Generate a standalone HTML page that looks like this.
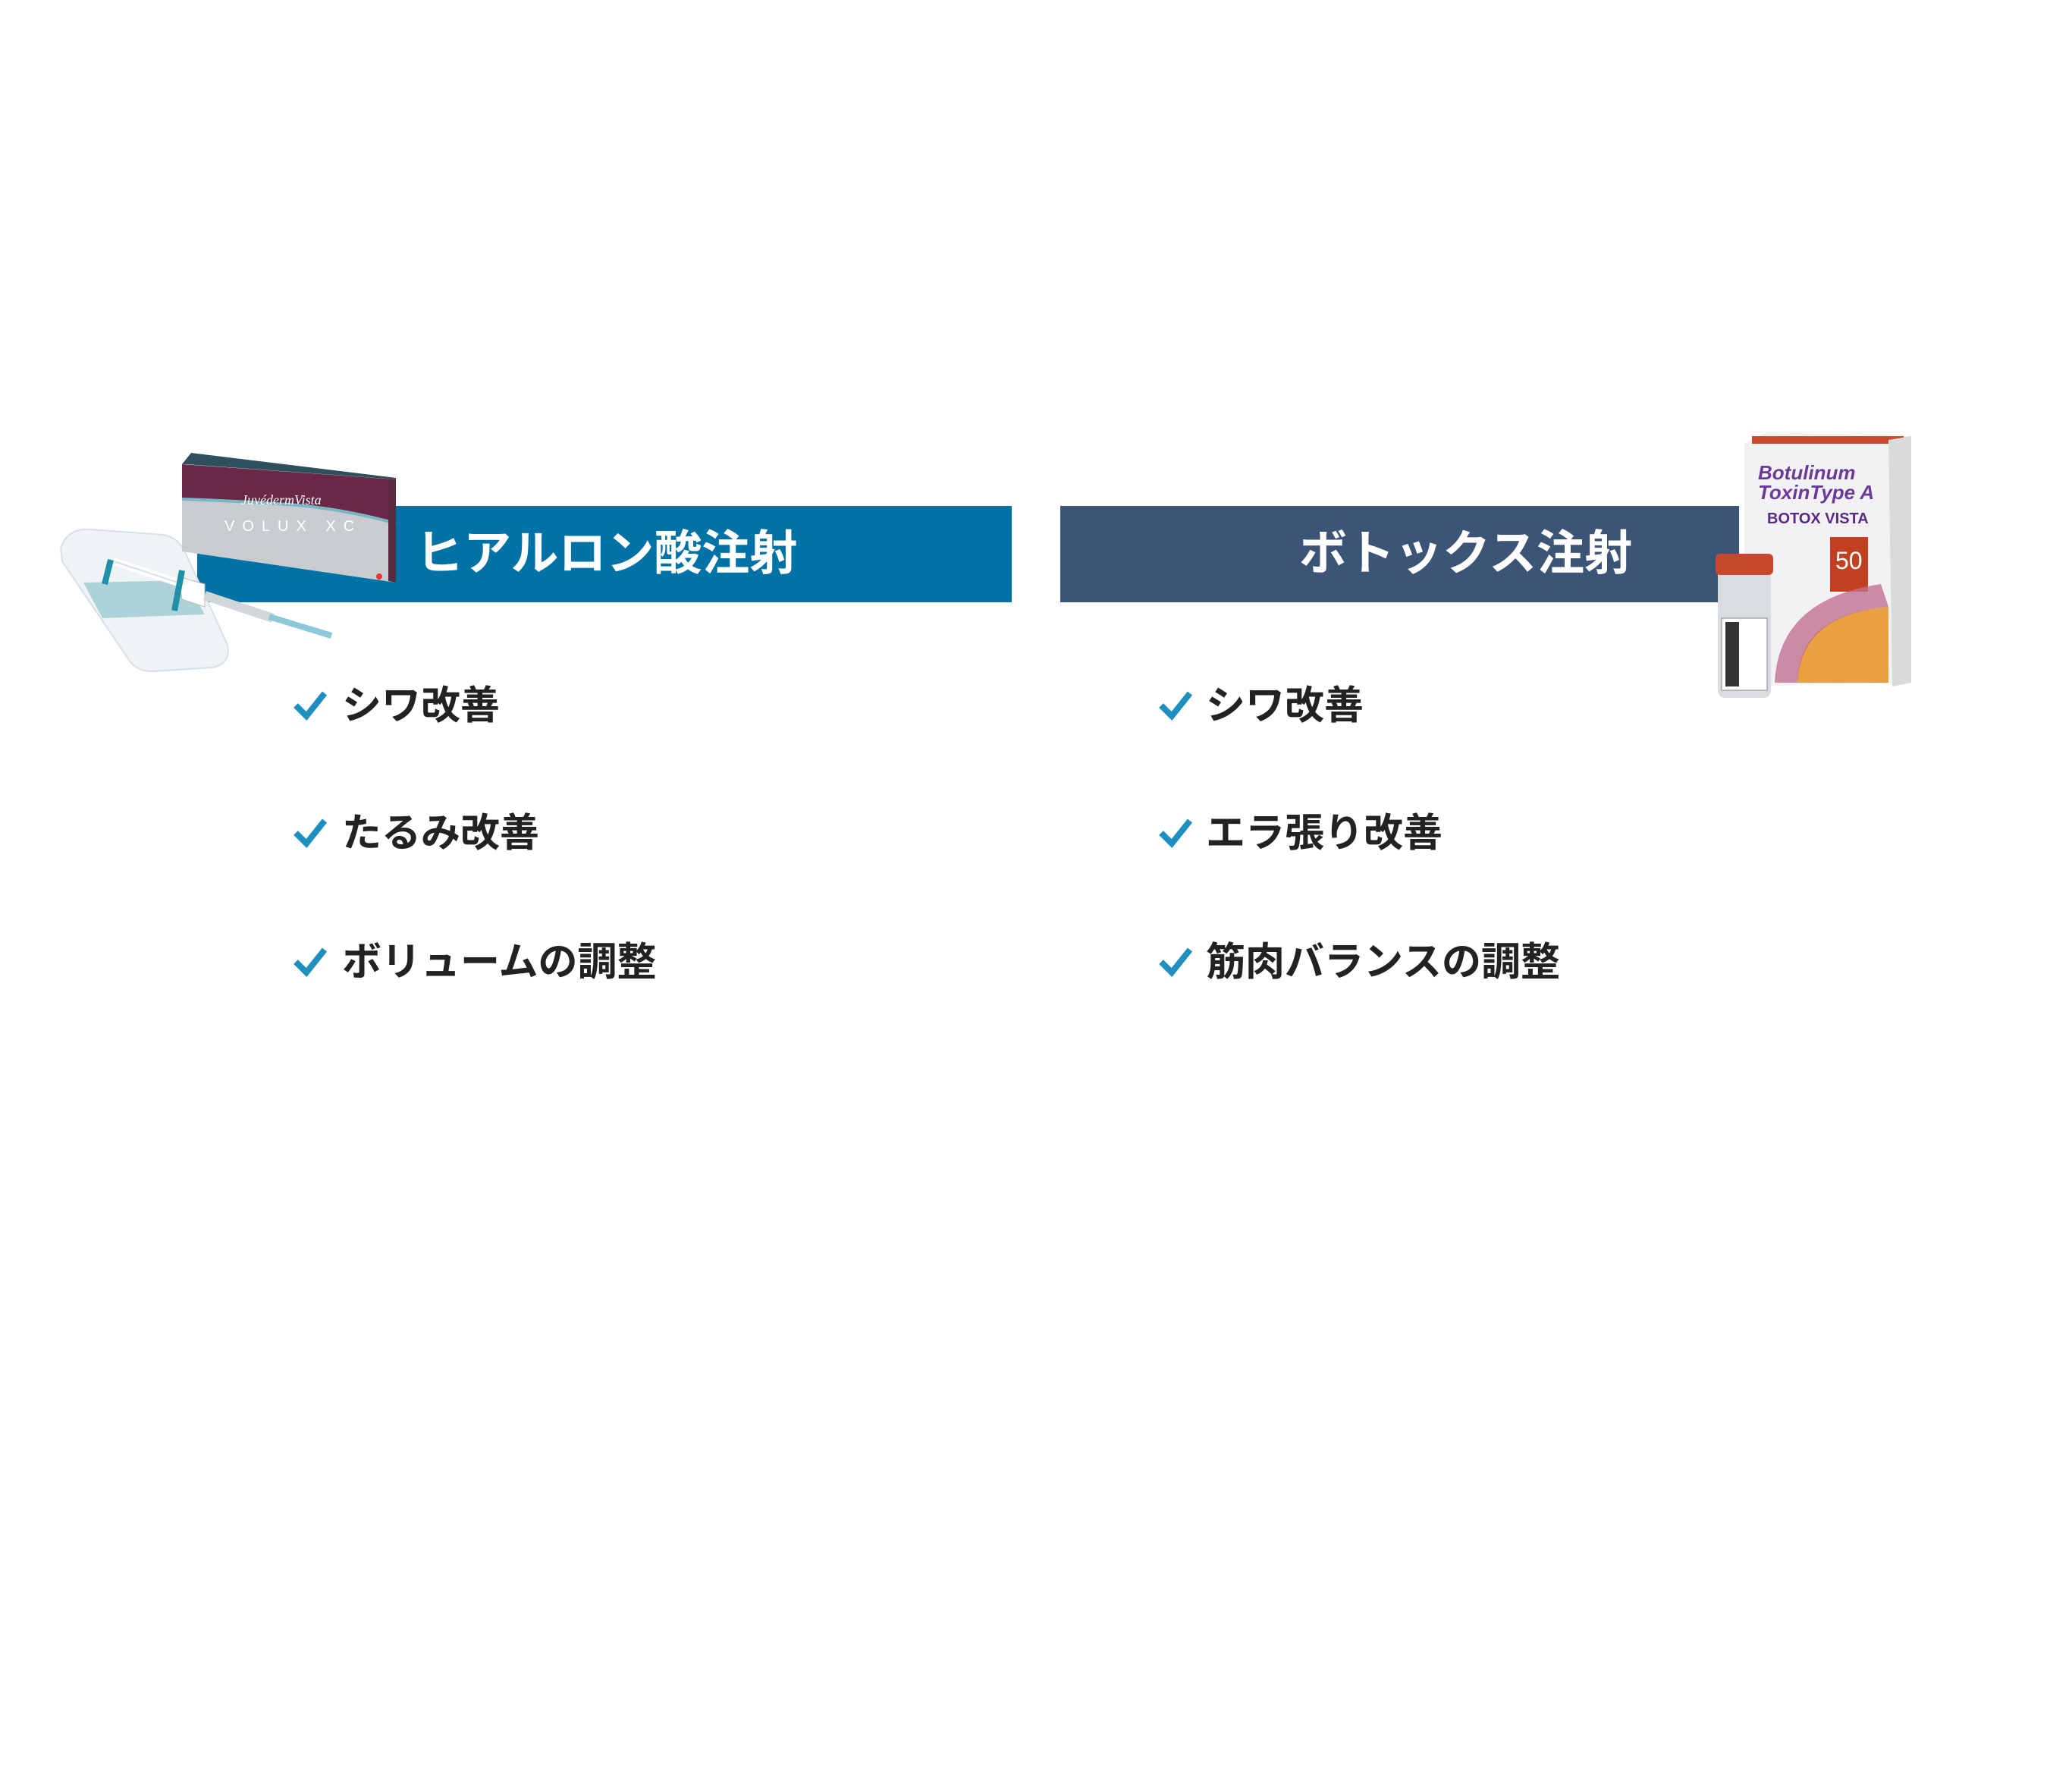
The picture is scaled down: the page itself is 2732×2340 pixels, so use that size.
<!DOCTYPE html>
<html><head><meta charset="utf-8"><style>
html,body{margin:0;padding:0;background:#fff}
body{width:2732px;height:2340px;position:relative;overflow:hidden;font-family:"Liberation Sans","Noto Sans CJK JP",sans-serif}
.ban{position:absolute;top:667px;height:127px}
.t{position:absolute;color:#fff;font-weight:700;font-size:63px;line-height:127px;top:0;white-space:nowrap}
.it{position:absolute;font-weight:700;font-size:52px;color:#222;white-space:nowrap;line-height:60px}
.ck{position:absolute;width:46px;height:40px}
svg{position:absolute;left:0;top:0}
</style></head><body>
<div class="ban" style="left:260px;width:1074px;background:#0072a6"><div class="t" style="left:288px">ヒアルロン酸注射</div></div>
<div class="ban" style="left:1398px;width:895px;background:#3c5577"><div class="t" style="left:315px">ボトックス注射</div></div>

<svg width="2732" height="2340" viewBox="0 0 2732 2340">
<path d="M80 722 Q90 695 120 698 L215 705 Q235 708 245 730 L300 850 Q305 875 280 880 L200 885 Q180 885 170 870 L82 740 Z" fill="#eef3f6" stroke="#d6e0e6" stroke-width="2"/>
<path d="M110 768 L245 765 L270 810 L135 815 Z" fill="#9cc9d1" opacity=".8"/>
<line x1="150" y1="740" x2="265" y2="778" stroke="#fff" stroke-width="10"/>
<line x1="150" y1="740" x2="265" y2="778" stroke="#dde" stroke-width="2"/>
<path d="M235 760 L270 770 L270 800 L240 790 Z" fill="#fff" stroke="#bbb"/>
<line x1="270" y1="785" x2="360" y2="815" stroke="#d0d6da" stroke-width="12"/>
<line x1="355" y1="813" x2="437" y2="838" stroke="#8cc9d8" stroke-width="8"/>
<line x1="146" y1="738" x2="138" y2="770" stroke="#1e90a8" stroke-width="8"/>
<line x1="240" y1="752" x2="230" y2="805" stroke="#1e90a8" stroke-width="8"/>
<polygon points="240,612 252,597 522,630 522,632 246,612" fill="#2e4f5c"/>
<polygon points="240,612 522,632 522,768 240,727" fill="#c9ccce"/>
<path d="M240 612 L522 632 L522 690 Q450 670 380 665 Q300 660 240 658 Z" fill="#6b2846"/>
<path d="M240 658 Q300 660 380 665 Q450 670 522 690" stroke="#7ab7c6" stroke-width="4" fill="none"/>
<polygon points="512,632 522,632 522,768 512,766" fill="#5a2a40"/>
<text x="318" y="665" font-family="Liberation Serif" font-style="italic" font-size="18" fill="#fff">JuvédermVista</text>
<text x="296" y="700" font-family="Liberation Sans" font-size="20" fill="#fff" letter-spacing="10">VOLUX XC</text>
<circle cx="500" cy="760" r="4" fill="#e33"/>
<polygon points="2300,585 2330,570 2520,575 2520,900 2300,905" fill="#f2f2f5"/>
<rect x="2310" y="575" width="200" height="10" fill="#c94a2e"/>
<polygon points="2490,580 2520,575 2520,900 2495,905" fill="#d8dadc"/>
<text x="2318" y="632" font-family="Liberation Sans" font-weight="700" font-style="italic" font-size="26" fill="#6a3a9a">Botulinum</text>
<text x="2318" y="658" font-family="Liberation Sans" font-weight="700" font-style="italic" font-size="26" fill="#6a3a9a">ToxinType A</text>
<text x="2330" y="690" font-family="Liberation Sans" font-weight="700" font-size="20" fill="#5a2a80">BOTOX VISTA</text>
<rect x="2413" y="708" width="50" height="72" fill="#c24020"/>
<text x="2420" y="750" font-family="Liberation Sans" font-size="32" fill="#fff">50</text>
<path d="M2370 900 Q2370 810 2490 800 L2490 900 Z" fill="#e8a040"/>
<path d="M2340 900 Q2345 790 2480 770 L2490 800 Q2375 810 2370 900 Z" fill="#c07090" opacity=".8"/>
<rect x="2265" y="740" width="70" height="180" rx="10" fill="#d8dde0"/>
<rect x="2262" y="730" width="76" height="28" rx="6" fill="#c8482e"/>
<rect x="2270" y="815" width="60" height="95" fill="#fff" stroke="#888"/>
<rect x="2275" y="820" width="18" height="85" fill="#333"/>
</svg>

<svg class="ck" style="left:386px;top:910px" viewBox="0 0 46 40"><path d="M4 20 L18 34 L42 4" stroke="#1f8fbf" stroke-width="8" fill="none"/></svg>
<div class="it" style="left:451px;top:901px">シワ改善</div>
<svg class="ck" style="left:386px;top:1078px" viewBox="0 0 46 40"><path d="M4 20 L18 34 L42 4" stroke="#1f8fbf" stroke-width="8" fill="none"/></svg>
<div class="it" style="left:451px;top:1069px">たるみ改善</div>
<svg class="ck" style="left:386px;top:1248px" viewBox="0 0 46 40"><path d="M4 20 L18 34 L42 4" stroke="#1f8fbf" stroke-width="8" fill="none"/></svg>
<div class="it" style="left:451px;top:1239px">ボリュームの調整</div>

<svg class="ck" style="left:1527px;top:910px" viewBox="0 0 46 40"><path d="M4 20 L18 34 L42 4" stroke="#1f8fbf" stroke-width="8" fill="none"/></svg>
<div class="it" style="left:1590px;top:901px">シワ改善</div>
<svg class="ck" style="left:1527px;top:1078px" viewBox="0 0 46 40"><path d="M4 20 L18 34 L42 4" stroke="#1f8fbf" stroke-width="8" fill="none"/></svg>
<div class="it" style="left:1590px;top:1069px">エラ張り改善</div>
<svg class="ck" style="left:1527px;top:1248px" viewBox="0 0 46 40"><path d="M4 20 L18 34 L42 4" stroke="#1f8fbf" stroke-width="8" fill="none"/></svg>
<div class="it" style="left:1590px;top:1239px">筋肉バランスの調整</div>
</body></html>
